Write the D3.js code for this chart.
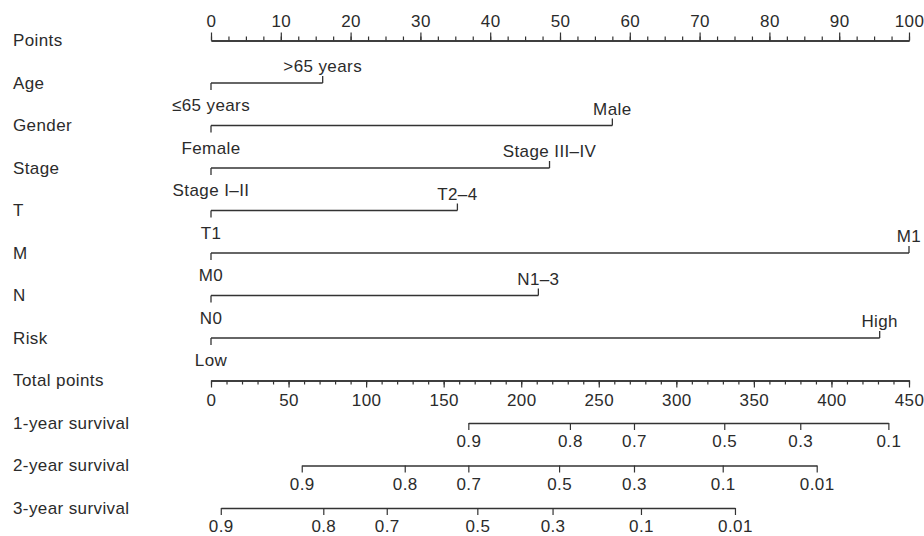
<!DOCTYPE html>
<html>
<head>
<meta charset="utf-8">
<script src="https://cdn.jsdelivr.net/npm/d3@7"></script>
<style>
  body { margin: 0; background: #fff; }
  svg text { font-family: "Liberation Sans", Arial, Helvetica, sans-serif; font-size: 17px; fill: #2b2b2b; letter-spacing: 0.4px; }
  .axis path, .axis line { stroke: #333; }
  .axis .domain { stroke-width: 1.3px; }
</style>
</head>
<body>
<div id="chart"></div>
<script>
// row names, top to bottom
const rowNames = ["Points", "Age", "Gender", "Stage", "T", "M", "N", "Risk",
  "Total points", "1-year survival", "2-year survival", "3-year survival"];

// points scale ticks
const pointTicks = [0, 10, 20, 30, 40, 50, 60, 70, 80, 90, 100];
const pointMinor = d3.range(0, 100.01, 2.5);

// predictors: level labels and points
const ageLevels = ["≤65 years", ">65 years"];
const agePoints = [0, 16];
const genderLevels = ["Female", "Male"];
const genderPoints = [0, 57.5];
const stageLevels = ["Stage I–II", "Stage III–IV"];
const stagePoints = [0, 48.5];
const tLevels = ["T1", "T2–4"];
const tPoints = [0, 35.3];
const mLevels = ["M0", "M1"];
const mPoints = [0, 100];
const nLevels = ["N0", "N1–3"];
const nPoints = [0, 46.9];
const riskLevels = ["Low", "High"];
const riskPoints = [0, 95.8];

// total points axis
const totalTicks = [0, 50, 100, 150, 200, 250, 300, 350, 400, 450];
const totalMinor = d3.range(0, 450.01, 10);

// survival axes: probability labels and their total points
const surv1Labels = ["0.9", "0.8", "0.7", "0.5", "0.3", "0.1"];
const surv1Total = [165.9, 231.4, 272.7, 330.9, 379.9, 436.7];
const surv2Labels = ["0.9", "0.8", "0.7", "0.5", "0.3", "0.1", "0.01"];
const surv2Total = [58.5, 124.9, 165.9, 224.4, 272.7, 329.9, 390.5];
const surv3Labels = ["0.9", "0.8", "0.7", "0.5", "0.3", "0.1", "0.01"];
const surv3Total = [6.3, 72.4, 113.3, 171.7, 220.2, 277.2, 337.8];

const width = 924, height = 536;
const svg = d3.select("#chart").append("svg")
    .attr("width", width)
    .attr("height", height);

const xPts = d3.scaleLinear().domain([0, 100]).range([211, 909]);
const xTot = d3.scaleLinear().domain([0, 450]).range([211, 909]);
const rowY = i => 40.5 + i * 42.5;

// row labels on the left
svg.selectAll(".rowLabel")
    .data(rowNames)
    .enter()
    .append("text")
    .attr("class", "rowLabel")
    .attr("x", 13)
    .attr("y", (d, i) => rowY(i))
    .attr("dy", "0.35em")
    .text(d => d);

// Points axis (ticks upward)
const ptsMinor = svg.append("g").attr("class", "axis")
    .attr("transform", `translate(0,${rowY(0)})`)
    .call(d3.axisTop(xPts).tickValues(pointMinor).tickSize(4).tickSizeOuter(0).tickFormat(""));
const ptsMajor = svg.append("g").attr("class", "axis")
    .attr("transform", `translate(0,${rowY(0)})`)
    .call(d3.axisTop(xPts).tickValues(pointTicks).tickSize(8).tickSizeOuter(0).tickPadding(6));
[ptsMinor, ptsMajor].forEach(g => g.selectAll("text").attr("font-size", null).attr("font-family", null));

// predictor rows
const predictors = [
  {levels: ageLevels, pts: agePoints},
  {levels: genderLevels, pts: genderPoints},
  {levels: stageLevels, pts: stagePoints},
  {levels: tLevels, pts: tPoints},
  {levels: mLevels, pts: mPoints},
  {levels: nLevels, pts: nPoints},
  {levels: riskLevels, pts: riskPoints}
];

predictors.forEach((p, k) => {
  const y = rowY(k + 1);
  const g = svg.append("g");
  g.append("line")
      .attr("x1", xPts(d3.min(p.pts))).attr("x2", xPts(d3.max(p.pts)))
      .attr("y1", y).attr("y2", y)
      .attr("stroke", "#333").attr("stroke-width", 1.3);
  p.pts.forEach((v, j) => {
    const up = j % 2 === 1; // second level sits above the line
    g.append("line")
        .attr("x1", xPts(v)).attr("x2", xPts(v))
        .attr("y1", y).attr("y2", up ? y - 7 : y + 7)
        .attr("stroke", "#333").attr("stroke-width", 1.3);
    g.append("text")
        .attr("x", xPts(v))
        .attr("y", up ? y - 11 : y + 28)
        .attr("text-anchor", "middle")
        .text(p.levels[j]);
  });
});

// Total points axis (ticks downward)
const totMinor = svg.append("g").attr("class", "axis")
    .attr("transform", `translate(0,${rowY(8)})`)
    .call(d3.axisBottom(xTot).tickValues(totalMinor).tickSize(4).tickSizeOuter(0).tickFormat(""));
const totMajor = svg.append("g").attr("class", "axis")
    .attr("transform", `translate(0,${rowY(8)})`)
    .call(d3.axisBottom(xTot).tickValues(totalTicks).tickSize(7).tickSizeOuter(0).tickPadding(6));
[totMinor, totMajor].forEach(g => g.selectAll("text").attr("font-size", null).attr("font-family", null));

// survival axes
const survivals = [
  {labels: surv1Labels, total: surv1Total},
  {labels: surv2Labels, total: surv2Total},
  {labels: surv3Labels, total: surv3Total}
];

survivals.forEach((s, k) => {
  const y = rowY(9 + k);
  const sc = d3.scaleLinear().domain(d3.extent(s.total)).range(d3.extent(s.total).map(xTot));
  const ax = svg.append("g").attr("class", "axis")
      .attr("transform", `translate(0,${y})`)
      .call(d3.axisBottom(sc)
        .tickValues(s.total)
        .tickSize(7)
        .tickSizeOuter(0)
        .tickPadding(5)
        .tickFormat((d, i) => s.labels[i]));
  ax.selectAll("text").attr("font-size", null).attr("font-family", null);
});

svg.selectAll(".axis .domain").attr("stroke-width", 1.3);
svg.selectAll(".axis .tick line").attr("stroke-width", 1.2);
</script>
</body>
</html>
